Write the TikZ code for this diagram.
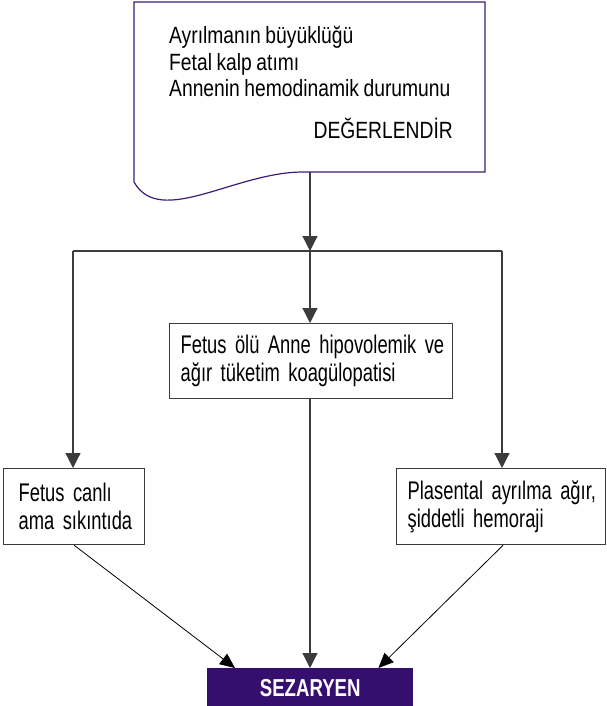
\documentclass[tikz,border=0pt]{standalone}
\usepackage{fontspec}
\setmainfont{Liberation Sans}
\newfontfamily\docfont{Liberation Sans}[FakeStretch=0.82, WordSpace=0.85]
\newfontfamily\boxfont{Liberation Sans}[FakeStretch=0.72, WordSpace=0.7]
\newfontfamily\sezfont{Liberation Sans}[FakeStretch=0.76]
\usetikzlibrary{arrows.meta, positioning, calc}
\definecolor{docline}{RGB}{58,28,120}
\definecolor{sezfill}{RGB}{54,14,110}
\definecolor{lines}{RGB}{60,60,60}
\tikzset{
    plain/.style = {draw=lines, line width=1.2pt, rectangle, inner ysep=0pt, inner xsep=11pt, align=left, anchor=north west, font=\boxfont\fontsize{25.5}{28.5}\selectfont},
    dark/.style  = {rectangle, fill=sezfill, inner sep=0pt, anchor=north west, minimum width=206pt, minimum height=40pt, text=white, font=\sezfont\bfseries\fontsize{24.5}{28}\selectfont},
    link/.style  = {draw=lines, line width=1.2pt, -{Triangle[length=15pt,width=15pt]}},
    slant/.style = {draw=black, line width=0.8pt, -{Triangle[length=15pt,width=13pt]}},
}
\begin{document}
\begin{tikzpicture}[x=1pt, y=-1pt]
  \useasboundingbox (0,0) rectangle (606,706);
  % document shape on top
  \draw [docline, line width=1.2pt] (134,2) -- (485,2) -- (485,172) -- (303,172) .. controls (235,172) and (160,228) .. (134,182) -- cycle;
  \coordinate (r1c1) at (310,172);
  \node [name=t1, anchor=north west, inner sep=0pt, align=left, font=\docfont\fontsize{23.5}{26.5}\selectfont] at (169,26) {Ayrılmanın büyüklüğü\\Fetal kalp atımı\\Annenin hemodinamik durumunu};
  \node [name=t2, anchor=base east, inner sep=0pt, font=\docfont\fontsize{23.5}{26.5}\selectfont] at (453,138) {DEĞERLENDİR};
  % boxes
  \node [name=r2c2, plain, text width=261pt, minimum height=75pt] at (169,323) {\mbox{Fetus ölü Anne hipovolemik ve}\\\mbox{ağır tüketim koagülopatisi}};
  \node [name=r3c1, plain, inner xsep=15pt, text width=111pt, minimum height=76pt] at (3,468) {\mbox{Fetus canlı}\\\mbox{ama sıkıntıda}};
  \node [name=r3c3, plain, text width=187pt, minimum height=76pt] at (396,468) {\mbox{Plasental ayrılma ağır,}\\\mbox{şiddetli hemoraji}};
  \node [name=r4c2, dark] at (207,668) {SEZARYEN};
  % connectors
  \coordinate (j1) at (310,251);
  \coordinate (jl) at (73,251);
  \coordinate (jr) at (502,251);
  \draw [link] (r1c1) -- (j1);
  \draw [draw=lines, line width=1.2pt] (jl) -- (jr);
  \draw [link] (j1) -- (j1 |- r2c2.north);
  \draw [link] (jl) -- (jl |- r3c1.north);
  \draw [link] (jr) -- (jr |- r3c3.north);
  \draw [link] (j1 |- r2c2.south) -- (j1 |- r4c2.north);
  \draw [slant] (r3c1.south) -- ($(r4c2.north west)+(28,0)$);
  \draw [slant] ($(r3c3.south)+(2,0)$) -- ($(r4c2.north east)+(-35,0)$);
\end{tikzpicture}
\end{document}
